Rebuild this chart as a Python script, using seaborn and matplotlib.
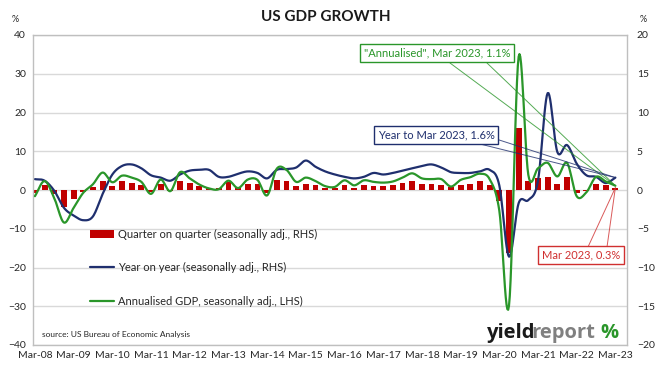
import numpy as np
import matplotlib
matplotlib.use("Agg")
import matplotlib.pyplot as plt
import seaborn as sns
from matplotlib.patches import Patch, ConnectionPatch
from matplotlib.lines import Line2D

# x-axis labels (one per year, every 4th quarter)
year_labels = ["Mar-08", "Mar-09", "Mar-10", "Mar-11", "Mar-12", "Mar-13", "Mar-14", "Mar-15",
               "Mar-16", "Mar-17", "Mar-18", "Mar-19", "Mar-20", "Mar-21", "Mar-22", "Mar-23"]

# quarter on quarter, seasonally adj. (RHS), Mar-08 .. Mar-23
qoq = [-0.4, 0.6, -0.5, -2.2,
       -1.2, -0.2, 0.4, 1.1,
       0.5, 1.1, 0.9, 0.6,
       -0.2, 0.8, -0.1, 1.2,
       0.9, 0.5, 0.2, 0.2,
       1.0, 0.2, 0.8, 0.8,
       -0.4, 1.3, 1.2, 0.5,
       0.8, 0.6, 0.3, 0.2,
       0.6, 0.3, 0.6, 0.5,
       0.5, 0.6, 0.9, 1.1,
       0.8, 0.8, 0.7, 0.4,
       0.7, 0.8, 1.1, 0.6,
       -1.4, -8.1, 8.0, 1.1,
       1.5, 1.7, 0.8, 1.7,
       -0.4, -0.1, 0.8, 0.6,
       0.3]

# year on year, seasonally adj. (RHS)
yoy = [1.4, 1.2, -0.1, -2.3,
       -3.3, -3.9, -3.4, -0.5,
       2.0, 3.1, 3.3, 2.8,
       1.9, 1.6, 1.2, 2.0,
       2.5, 2.6, 2.6, 1.7,
       1.7, 2.1, 2.4, 2.2,
       1.5, 2.6, 2.7, 2.9,
       3.8, 3.0, 2.4, 2.0,
       1.7, 1.5, 1.7, 2.2,
       2.0, 2.2, 2.5, 2.8,
       3.1, 3.3, 2.9, 2.3,
       2.2, 2.2, 2.4, 2.6,
       0.6, -8.6, -1.7, -1.3,
       1.2, 12.5, 4.9, 5.8,
       3.4, 1.9, 1.7, 0.9,
       1.6]

# annualised GDP, seasonally adj. (LHS)
annualised = [-1.6, 2.3, -2.1, -8.4,
              -4.6, -0.7, 1.5, 4.5,
              2.0, 3.7, 3.2, 2.1,
              -1.0, 2.7, -0.3, 4.6,
              3.0, 1.4, 0.4, 0.2,
              2.4, 0.5, 2.7, 2.6,
              -1.4, 5.5, 5.2, 2.1,
              3.2, 2.3, 1.0, 0.8,
              2.5, 1.2, 2.5, 2.1,
              1.9, 2.2, 3.2, 4.3,
              3.0, 2.8, 2.8, 0.9,
              2.6, 3.3, 4.2, 2.8,
              -5.3, -29.9, 34.4, 3.9,
              5.6, 7.0, 3.5, 7.0,
              -1.6, -0.6, 3.4, 2.2,
              1.1]

RED = "#c00000"
BLUE = "#1f2f6e"
GREEN = "#2a962a"
W, H = 671, 368


def smooth(vals, n=12):
    # Excel-style smoothed line (Catmull-Rom through the data points)
    y = np.asarray(vals, float)
    x = np.arange(len(y), dtype=float)
    p = np.concatenate([[2 * y[0] - y[1]], y, [2 * y[-1] - y[-2]]])
    t = np.linspace(0, 1, n, endpoint=False)
    xs, ys = [], []
    for i in range(len(y) - 1):
        p0, p1, p2, p3 = p[i], p[i + 1], p[i + 2], p[i + 3]
        seg = 0.5 * (2 * p1 + (-p0 + p2) * t + (2 * p0 - 5 * p1 + 4 * p2 - p3) * t ** 2
                     + (-p0 + 3 * p1 - 3 * p2 + p3) * t ** 3)
        xs.extend(x[i] + t)
        ys.extend(seg)
    xs.append(x[-1])
    ys.append(y[-1])
    return np.array(xs), np.array(ys)


sns.set_theme(style="white")
plt.rcParams["font.family"] = ["Lato", "DejaVu Sans"]

fig = plt.figure(figsize=(W / 100, H / 100), dpi=100)
ax_r = fig.add_axes([33 / W, 23 / H, 594 / W, 310 / H])
ax_l = ax_r.twinx()
ax_l.set_zorder(ax_r.get_zorder() + 1)
ax_l.patch.set_visible(False)

quarters = np.arange(len(qoq))

# bars + year on year on the right axis
sns.barplot(x=quarters, y=qoq, native_scale=True, width=0.6, color=RED,
            saturation=1, linewidth=0, ax=ax_r)
bx, by = smooth(yoy)
sns.lineplot(x=bx, y=by, sort=False, estimator=None, color=BLUE, lw=1.6, ax=ax_r)

# annualised on the left axis
gx, gy = smooth(annualised)
sns.lineplot(x=gx, y=gy, sort=False, estimator=None, color=GREEN, lw=1.6, ax=ax_l)

ax_r.set_ylim(-20, 20)
ax_l.set_ylim(-40, 40)
ax_r.set_xlim(-0.2, 61.2)
ax_r.set_yticks(range(-20, 21, 5))
ax_l.set_yticks(range(-40, 41, 10))
ax_r.yaxis.tick_right()
ax_l.yaxis.tick_left()
ax_r.set_xticks(range(0, len(qoq), 4))
ax_r.set_xticklabels(year_labels)
ax_r.tick_params(axis="x", length=0, pad=4, labelsize=7.5, labelcolor="#262626")
ax_r.tick_params(axis="y", length=0, pad=7, labelsize=7.5, labelcolor="#262626")
ax_l.tick_params(axis="y", length=0, pad=5, labelsize=7.5, labelcolor="#262626")
ax_r.set_xlabel("")
ax_r.set_ylabel("")
ax_l.set_ylabel("")

ax_r.yaxis.grid(True, color="#d9d9d9", lw=1)
ax_r.set_axisbelow(True)
for s in ax_r.spines.values():
    s.set_visible(True)
    s.set_color("#bfbfbf")
    s.set_linewidth(1)
for s in ax_l.spines.values():
    s.set_visible(False)

# legend
handles = [Patch(facecolor=RED, edgecolor="none"),
           Line2D([], [], color=BLUE, lw=1.6),
           Line2D([], [], color=GREEN, lw=1.6)]
labels = ["Quarter on quarter (seasonally adj., RHS)",
          "Year on year (seasonally adj., RHS)",
          "Annualised GDP, seasonally adj., LHS)"]
fig.legend(handles, labels, loc="upper left", bbox_to_anchor=(90 / W, 1 - 229 / H),
           frameon=False, fontsize=8, labelspacing=2.0, handlelength=2.2,
           handletextpad=0.3, borderpad=0, borderaxespad=0, labelcolor="#262626")


def callout(text, cx, cy, color, bases, tip, ax):
    fig.text(cx / W, 1 - cy / H, text, ha="center", va="center", color=color, fontsize=8,
             zorder=5, bbox=dict(boxstyle="square,pad=0.35", fc="white", ec=color, lw=1))
    for px, py in bases:
        fig.add_artist(ConnectionPatch(xyA=(px / W, 1 - py / H), coordsA=fig.transFigure,
                                       xyB=tip, coordsB=ax.transData,
                                       color=color, lw=0.7, alpha=0.8, zorder=4))


last = len(qoq) - 1
callout("\"Annualised\", Mar 2023, 1.1%", 437, 53, GREEN,
        [(450, 63), (487, 63)], (last, annualised[-1]), ax_l)
callout("Year to Mar 2023, 1.6%", 436, 135, BLUE,
        [(476, 143), (493, 138)], (last, yoy[-1]), ax_r)
callout("Mar 2023, 0.3%", 581, 255, "#d03030",
        [(588, 247), (607, 247)], (last, qoq[-1]), ax_r)

# titles and notes
fig.text(326 / W, 1 - 17 / H, "US GDP GROWTH", ha="center", va="center",
         fontsize=11, fontweight="bold", color="#1a1a1a")
fig.text(15 / W, 1 - 19 / H, "%", ha="center", va="center", fontsize=6.5, color="#262626")
fig.text(643 / W, 1 - 19 / H, "%", ha="center", va="center", fontsize=6.5, color="#262626")
fig.text(42 / W, 1 - 334 / H, "source: US Bureau of Economic Analysis", ha="left",
         va="center", fontsize=6, color="#262626")

# logo
fig.canvas.draw()
x0 = 487
for word, col, gap in [("yield", "#1a1a1a", 0), ("report", "#808080", -4), ("%", GREEN, 5)]:
    x0 += gap
    t = fig.text(x0 / W, 1 - 338 / H, word, ha="left", va="baseline", fontsize=14.5,
                 fontweight="bold", color=col, family=["Open Sans", "DejaVu Sans"])
    fig.canvas.draw()
    x0 = t.get_window_extent().x1

fig.savefig("out.png", dpi=100)
